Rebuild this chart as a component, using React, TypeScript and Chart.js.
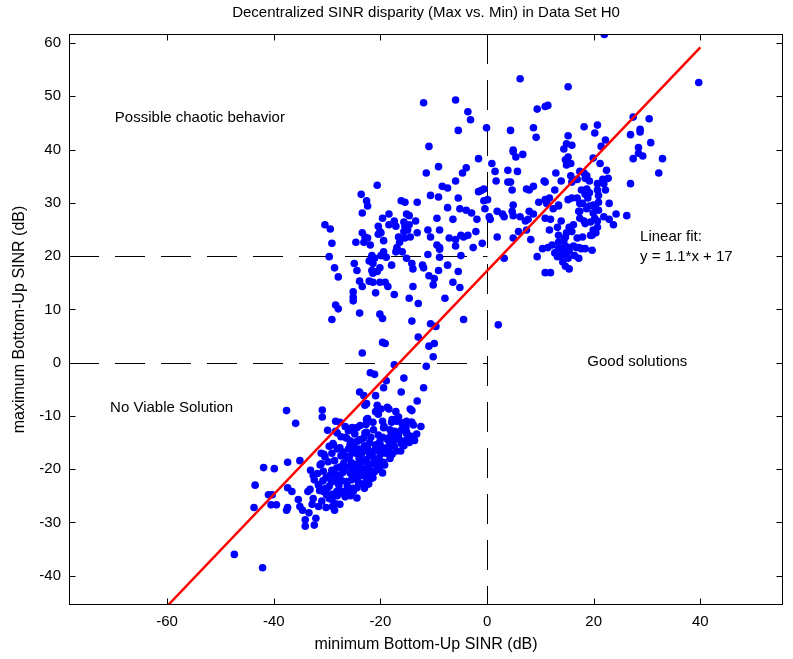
import React, { useEffect, useRef } from 'react';
import { Chart, registerables } from 'chart.js';
Chart.register(...registerables);

// Axis ranges and ticks
const X_MIN = -78.4;
const X_MAX = 55.5;
const Y_MIN = -45.5;
const Y_MAX = 61.7;
const xTickValues = [-60, -40, -20, 0, 20, 40];
const yTickValues = [-40, -30, -20, -10, 0, 10, 20, 30, 40, 50, 60];

// Texts
const titleText = 'Decentralized SINR disparity (Max vs. Min) in Data Set H0';
const xTitle = 'minimum Bottom-Up SINR (dB)';
const yTitle = 'maximum Bottom-Up SINR (dB)';
const noteTexts = ['Possible chaotic behavior', 'Linear fit:', 'y = 1.1*x + 17', 'Good solutions', 'No Viable Solution'];
const noteX = [-69.8, 28.7, 28.7, 18.8, -70.7];
const noteY = [45.9, 23.6, 19.8, 0.1, -8.5];

// Reference (dashed) lines
const refVerticalX = 0;
const refHorizontalY = [20, 0];

// Linear fit endpoints
const fitX = [-59.8, 40];
const fitY = [-45.5, 59.2];

// Scatter points: upper-left cluster
const upperLeft: number[][] = [
  [-11.9,48.8],[-5.9,49.3],[-3.6,47.1],[-3.1,45.6],[-5.4,43.6],[-0.1,44.1],[-10.9,40.6],[-1.6,38.3],[0.9,37.4],[-9.1,36.8],
  [-11.4,35.6],[-3.9,36.6],[-4.6,35.6],[1.5,35.9],[-5.9,34.1],[1.7,34.1],[-20.6,33.3],[-8.4,33.1],[-7.4,32.8],[-23.6,31.6],
  [-10.6,31.4],[-9.1,31.1],[-1.6,32.1],[-1.1,32.3],[-0.6,32.6],[-22.6,30.4],[-16.1,30.4],[-15.4,30.1],[-13.1,30.1],[-5.4,30.9],
  [-0.6,30.4],[0.1,30.6],[-22.4,29.4],[-7.4,29.1],[-5.1,28.9],[-3.9,28.6],[-2.9,28.1],[-0.4,28.9],[-23.4,28.1],[-19.6,27.1],
  [-18.4,27.9],[-15.1,27.9],[-14.6,27.6],[1.9,28.4],[-30.4,25.9],[-29.4,25.1],[-20.4,25.6],[-20.1,24.6],[-18.4,25.9],[-17.4,26.6],
  [-17.1,25.6],[-15.6,26.4],[-15.4,25.6],[-14.6,25.9],[-15.6,24.6],[-13.4,26.6],[-9.4,27.1],[-6.4,26.9],[-1.9,26.9],[0.4,27.4],
  [0.6,26.9],[-29.1,22.4],[-24.6,22.6],[-23.4,24.4],[-22.9,23.6],[-22.4,23.4],[-23.1,22.6],[-21.9,22.1],[-19.9,24.4],[-20.4,24.1],
  [-19.4,22.9],[-16.6,23.6],[-16.4,22.6],[-16.9,21.6],[-14.9,24.9],[-14.4,23.6],[-15.4,23.4],[-13.1,24.4],[-11.1,24.9],[-10.6,23.6],
  [-8.9,24.9],[-7.1,23.4],[-5.9,23.1],[-4.9,23.9],[-4.4,23.6],[-3.6,23.9],[-2.1,24.6],[-0.9,22.4],[1.9,23.6],[-9.4,22.1],
  [-8.9,21.6],[-5.9,21.9],[-2.6,21.6],
  [-29.6,19.9],[-28.6,17.8],[-27.9,16.1],[-24.9,18.6],[-24.4,17.3],[-22.1,19.1],[-21.6,19.3],[-21.1,19.6],[-21.6,20.1],[-21.4,18.6],
  [-21.6,17.3],[-20.6,17.1],[-21.4,16.8],[-20.1,17.8],[-19.9,20.1],[-19.4,20.8],[-18.9,19.8],[-17.9,18.3],[-16.9,21.3],[-17.1,20.8],
  [-15.9,20.8],[-15.1,19.6],[-14.1,18.6],[-13.9,17.6],[-12.1,18.3],[-11.9,17.8],[-11.1,20.3],[-8.9,21.3],[-8.9,19.8],[-7.4,18.3],
  [-4.9,20.1],[-10.9,16.3],[-9.9,15.8],[-10.1,14.6],[-9.1,17.3],[-5.4,17.1],[-6.4,15.1],[-5.1,14.1],[-23.9,15.3],[-23.4,14.3],
  [-22.1,15.3],[-21.4,15.1],[-20.1,15.1],[-19.1,15.1],[-18.6,14.3],[-13.9,14.3],[-25.1,13.3],[-25.1,12.3],[-25.1,11.6],[-20.9,13.1],
  [-17.4,12.8],[-14.6,12.1],[-12.9,11.1],[-7.9,12.1],[-28.4,10.8],[-27.9,10.1],[-23.9,9.3],[-20.1,9.1],[-19.6,8.3],[-29.1,8.1],
  [-14.1,7.8],[-10.6,7.3],[-9.6,6.8],[-4.4,8.1],[2.1,7.1],[-19.6,3.8],[-19.1,3.6],[-12.9,4.8],[-10.9,3.1],[-9.9,3.6],
  [-23.4,1.8],[-10.1,1.1],[-11.4,-0.7],[-17.4,-0.4],[-21.9,-1.9],[-21.1,-2.2],[-15.6,-2.9],
];

// Scatter points: upper-right cluster
const upperRight: number[][] = [
  [22.0,61.6],[6.2,53.3],[15.2,51.8],[39.7,52.6],[9.4,47.6],[10.9,48.1],[11.4,48.3],[4.4,43.6],[8.7,44.1],[9.2,42.3],
  [15.2,42.6],[18.2,44.3],[20.7,44.6],[20.2,43.1],[22.2,41.8],[21.4,40.6],[27.4,46.1],[30.4,45.8],[26.9,42.8],[28.7,43.8],
  [28.7,43.3],[30.7,41.3],[28.4,40.4],[14.9,41.1],[15.9,40.8],[14.4,40.1],[4.9,39.9],[4.9,39.6],[5.4,38.6],[6.7,39.1],
  [15.2,38.6],[14.7,38.1],[14.9,37.1],[15.7,37.4],[28.4,39.3],[29.2,38.8],[27.4,38.3],[32.9,38.3],[32.2,35.6],[26.9,33.6],
  [3.9,36.1],[5.7,35.9],[3.9,33.9],[4.4,33.9],[4.7,32.4],[4.9,29.6],[12.9,35.6],[13.9,34.1],[15.7,35.1],[10.7,34.1],
  [10.9,33.9],[7.4,32.6],[7.9,32.4],[8.7,33.1],[9.7,30.1],[10.9,30.6],[11.2,29.9],[12.7,32.4],[11.7,30.9],[13.4,29.6],
  [17.4,35.9],[18.2,35.6],[18.4,34.6],[18.7,35.1],[19.2,34.1],[15.9,33.9],[16.9,34.4],[19.9,38.4],[21.2,37.4],[22.4,36.1],
  [22.7,34.6],[21.7,34.4],[21.9,33.6],[20.7,33.6],[22.2,32.4],[20.7,32.4],[20.9,31.4],[17.7,32.4],[18.7,32.6],[18.4,31.6],
  [19.2,31.9],[18.9,30.9],[15.2,30.6],[15.9,30.9],[16.9,30.9],[17.4,29.9],[17.9,29.9],[17.4,28.4],[18.7,28.9],[19.2,29.4],
  [19.9,29.6],[20.4,28.9],[20.9,28.6],[19.9,28.1],[20.9,30.1],[22.9,29.9],[12.4,28.9],[13.4,29.4],[7.9,28.4],[8.7,27.9],
  [10.9,27.1],[11.9,26.9],[13.9,26.6],[2.9,27.9],[3.2,27.4],[4.7,28.4],[4.9,27.6],[6.2,27.4],[7.2,26.6],[7.7,26.9],
  [17.2,28.4],[17.4,27.1],[18.2,26.6],[19.4,26.4],[18.4,26.1],[20.2,27.1],[20.7,26.6],[20.7,25.4],[19.9,24.9],[20.4,24.4],
  [19.7,23.9],[21.9,27.4],[22.9,26.9],[23.7,25.9],[24.2,27.9],[26.2,27.6],[16.2,25.9],[15.4,25.4],[15.9,24.6],[14.9,24.4],
  [14.7,23.6],[13.2,25.4],[11.7,24.9],[13.4,23.9],[8.2,23.1],[4.9,23.4],[5.9,24.6],[7.4,24.9],[16.9,23.4],[17.9,23.6],
  [19.4,23.9],[10.4,21.4],[11.4,21.6],[12.2,22.1],[12.7,20.6],[13.4,22.6],[13.4,21.4],[14.2,21.4],[14.4,22.9],[14.7,21.9],
  [15.2,21.6],[15.4,20.9],[16.2,21.9],[16.7,21.6],[17.2,21.6],[17.7,21.4],[18.4,21.4],[19.7,21.1],[9.4,19.9],[13.2,19.9],
  [13.9,20.1],[14.7,20.4],[15.2,19.6],[16.4,20.1],[17.2,19.6],[14.2,18.9],[15.4,17.6],[14.7,18.1],[10.9,16.9],[11.9,16.9],
  [3.2,19.6],
];

// Scatter points: lower cluster
const lowerCluster: number[][] = [
  [-18.9,-3.4],[-19.4,-4.7],[-11.9,-4.7],[-16.1,-5.5],[-23.9,-5.5],[-23.1,-6.2],[-20.9,-6.2],[-13.1,-7.2],[-22.6,-7.7],[-22.9,-8.0],
  [-20.6,-8.0],[-37.6,-9.0],[-30.9,-8.9],[-30.9,-10.2],[-20.9,-9.2],[-19.9,-8.7],[-20.4,-9.7],[-17.1,-9.2],[-16.6,-10.2],[-14.4,-8.7],
  [-14.1,-9.0],[-12.4,-12.0],[-14.1,-11.2],[-35.9,-11.4],[-28.4,-11.0],[-27.6,-11.2],[-22.6,-10.7],[-21.4,-11.2],[-19.6,-11.0],[-17.9,-11.2],
  [-16.9,-11.0],[-15.9,-11.5],[-15.1,-11.0],[-15.1,-13.0],[-16.1,-12.7],[-17.6,-13.0],[-19.3,-12.0],[-29.9,-12.7],[-26.6,-12.0],[-25.4,-12.5],
  [-35.1,-18.4],[-37.4,-18.7],[-41.9,-19.7],[-39.9,-19.9],[-33.1,-20.2],[-32.6,-21.2],[-31.1,-17.0],[-30.4,-17.7],
  [-18.7,-8.4],[-18.4,-8.7],[-17.8,-10.7],[-16.8,-10.4],[-15.7,-11.3],[-15.2,-12.1],[-14.2,-11.2],[-13.8,-11.7],[-19.4,-12.2],[-18.2,-12.6],
  [-17.3,-12.9],[-16.6,-13.6],[-15.1,-13.3],[-16.1,-15.2],[-17.6,-14.6],[-18.6,-14.2],[-20.1,-14.8],[-20.7,-15.4],[-18.8,-16.0],[-21.3,-16.7],
  [-21.3,-12.6],[-28.4,-12.9],[-25.3,-12.2],[-24.4,-12.2],[-22.7,-11.6],[-22.6,-13.1],[-27.4,-13.9],[-26.3,-14.2],[-28.8,-15.4],[-27.6,-16.0],
  [-25.7,-15.4],[-24.4,-14.8],[-23.2,-14.2],[-25.1,-16.7],[-23.2,-16.7],[-29.1,-17.0],
  [-33.2,-23.8],[-31.3,-19.2],[-30.7,-20.4],[-31.6,-22.9],[-30.7,-24.2],[-30.1,-24.8],[-29.1,-25.7],[-28.2,-24.2],[-28.8,-22.3],[-29.4,-21.1],
  [-28.2,-19.8],[-26.9,-18.9],[-27.6,-21.1],[-26.3,-22.3],[-26.6,-24.2],[-25.1,-23.6],[-24.4,-21.7],[-25.1,-19.8],[-23.8,-19.2],[-23.2,-20.4],
  [-24.4,-25.4],[-22.6,-22.3],[-24.0,-18.0],[-22.0,-17.5],[-21.5,-19.0],[-23.0,-18.5],[-20.0,-17.2],[-19.0,-17.0],[-20.5,-19.0],[-21.5,-20.5],
  [-21.8,-21.8],[-21.4,-21.6],[-16.4,-14.5],[-17.4,-15.7],[-18.4,-16.5],[-19.4,-18.7],[-21.1,-18.0],[-21.9,-17.0],[-20.9,-15.5],[-19.9,-15.7],
  [-18.6,-14.5],[-17.6,-14.3],[-28.1,-13.2],[-28.9,-15.2],[-29.6,-15.7],[-30.6,-17.2],[-31.1,-19.0],[-28.1,-16.2],[-27.4,-17.5],[-26.1,-18.0],
  [-24.6,-17.0],[-23.6,-18.7],[-22.9,-20.0],[-21.6,-20.5],[-20.6,-19.7],[-19.6,-20.7],[-26.6,-19.5],[-29.1,-20.2],[-25.6,-14.7],[-23.9,-14.5],
  [-22.9,-13.2],[-22.4,-10.5],[-26.6,-14.0],
  [-27.0,-16.8],[-26.0,-16.2],[-25.0,-15.8],[-24.0,-16.2],[-23.0,-15.6],[-22.0,-15.0],[-26.8,-20.2],[-25.6,-20.8],[-24.6,-20.2],[-23.6,-21.2],
  [-22.8,-21.4],[-27.8,-23.0],[-26.2,-23.2],[-25.4,-22.0],[-23.4,-22.8],[-22.2,-19.4],[-24.2,-19.0],[-25.8,-17.6],[-28.6,-18.4],[-29.8,-18.6],
  [-30.2,-21.6],[-27.2,-22.2],[-20.2,-18.2],[-19.2,-16.2],[-18.2,-15.2],[-20.4,-13.6],[-21.8,-14.0],[-24.8,-13.4],[-26.0,-12.8],[-23.8,-11.8],
  [-17.0,-16.6],[-16.8,-14.0],[-15.2,-14.6],[-14.4,-13.8],[-13.2,-13.4],
  [-31.8,-20.8],[-30.8,-22.2],[-29.6,-23.2],[-28.6,-21.0],[-27.6,-19.6],[-26.6,-17.6],[-25.4,-18.8],[-24.8,-21.0],[-23.8,-20.0],[-22.6,-18.2],
  [-21.0,-16.4],[-20.2,-16.2],[-19.6,-14.0],[-18.0,-13.6],[-22.4,-16.0],[-23.6,-17.2],[-25.6,-19.6],[-27.0,-20.6],[-28.0,-21.8],[-29.2,-22.4],
  [-30.0,-23.6],[-27.6,-24.0],[-26.6,-25.2],[-25.6,-25.0],[-23.0,-23.6],[-22.2,-22.8],[-20.2,-20.0],[-19.2,-19.2],[-18.2,-18.0],[-17.8,-17.2],
  [-16.2,-16.6],[-15.6,-15.6],[-14.6,-15.0],[-13.6,-14.6],[-32.8,-26.6],[-31.0,-26.0],[-30.2,-27.2],[-29.0,-27.0],[-27.6,-26.6],
  [-43.5,-23.0],[-43.7,-27.2],[-41.0,-24.8],[-40.3,-24.8],[-40.5,-26.7],[-39.5,-26.7],[-37.4,-23.5],[-36.6,-24.2],[-37.6,-27.7],[-37.4,-27.2],
  [-35.4,-25.7],[-35.1,-27.0],[-34.6,-27.7],[-33.6,-24.2],[-32.6,-25.5],[-33.4,-28.2],[-34.1,-29.5],[-34.1,-30.7],[-32.1,-29.2],[-32.4,-30.5],
  [-31.6,-27.0],[-28.6,-27.7],[-28.4,-26.5],[-47.4,-36.0],[-42.1,-38.5],[-32.4,-22.0],[-31.6,-23.0],[-31.4,-24.0],[-30.4,-23.7],[-29.6,-25.5],
  [-29.1,-24.7],[-28.1,-25.0],[-27.1,-24.5],[-25.9,-23.7],[-25.1,-24.2],[-24.4,-23.5],[-24.1,-22.5],[-21.9,-21.5],[-21.1,-20.5],[-22.6,-20.7],
];

const FONT = "'Liberation Sans', Arial, Helvetica, sans-serif";

const framePlugin = {
  id: 'matlabFrame',
  beforeDatasetsDraw(chart: any) {
    const { ctx, chartArea: a, scales } = chart;
    const xs = scales.x, ys = scales.y;
    ctx.save();
    ctx.beginPath();
    ctx.rect(a.left, a.top, a.right - a.left, a.bottom - a.top);
    ctx.clip();
    ctx.strokeStyle = '#000';
    ctx.lineWidth = 1;
    ctx.setLineDash([30, 16]);
    const vx = Math.round(xs.getPixelForValue(refVerticalX)) + 0.5;
    ctx.beginPath();
    ctx.moveTo(vx, a.top);
    ctx.lineTo(vx, a.bottom);
    ctx.stroke();
    for (const v of refHorizontalY) {
      const py = Math.round(ys.getPixelForValue(v)) + 0.5;
      ctx.beginPath();
      ctx.moveTo(a.left, py);
      ctx.lineTo(vx, py);
      ctx.stroke();
    }
    ctx.restore();
  },
  afterDraw(chart: any) {
    const { ctx, chartArea: a, scales } = chart;
    const xs = scales.x, ys = scales.y;
    ctx.save();
    ctx.strokeStyle = '#000';
    ctx.lineWidth = 1;
    ctx.setLineDash([]);
    const L = Math.round(a.left) + 0.5, R = Math.round(a.right) - 0.5;
    const T = Math.round(a.top) + 0.5, B = Math.round(a.bottom) - 0.5;
    ctx.strokeRect(L, T, R - L, B - T);
    const tl = 6;
    ctx.beginPath();
    for (const v of xTickValues) {
      const px = Math.round(xs.getPixelForValue(v)) + 0.5;
      ctx.moveTo(px, B); ctx.lineTo(px, B - tl);
      ctx.moveTo(px, T); ctx.lineTo(px, T + tl);
    }
    for (const v of yTickValues) {
      const py = Math.round(ys.getPixelForValue(v)) + 0.5;
      ctx.moveTo(L, py); ctx.lineTo(L + tl, py);
      ctx.moveTo(R, py); ctx.lineTo(R - tl, py);
    }
    ctx.stroke();

    ctx.fillStyle = '#000';
    ctx.font = `15px ${FONT}`;
    ctx.textAlign = 'left';
    ctx.textBaseline = 'middle';
    noteTexts.forEach((t, i) => {
      ctx.fillText(t, xs.getPixelForValue(noteX[i]), ys.getPixelForValue(noteY[i]));
    });
    ctx.textAlign = 'center';
    ctx.font = `15px ${FONT}`;
    ctx.fillText(titleText, (a.left + a.right) / 2, 13);
    ctx.font = `16px ${FONT}`;
    ctx.fillText(xTitle, (a.left + a.right) / 2, 645);
    ctx.translate(20, (a.top + a.bottom) / 2);
    ctx.rotate(-Math.PI / 2);
    ctx.fillText(yTitle, 0, 0);
    ctx.restore();
  },
};

export default function App() {
  const ref = useRef<HTMLCanvasElement | null>(null);
  useEffect(() => {
    if (!ref.current) return;
    const pts = [...upperLeft, ...upperRight, ...lowerCluster].map(([x, y]) => ({ x, y }));
    const fit = fitX.map((x, i) => ({ x, y: fitY[i] }));
    const tickFont = { family: FONT, size: 15 };
    const chart = new Chart(ref.current, {
      type: 'scatter',
      data: {
        datasets: [
          {
            type: 'line',
            data: fit,
            borderColor: '#ff0000',
            borderWidth: 2.5,
            pointRadius: 0,
            fill: false,
            tension: 0,
            order: 0,
          } as any,
          {
            type: 'scatter',
            data: pts,
            backgroundColor: '#0000ff',
            borderColor: '#0000ff',
            borderWidth: 0,
            pointRadius: 3.8,
            order: 1,
          } as any,
        ],
      },
      options: {
        responsive: false,
        animation: false,
        devicePixelRatio: 1,
        layout: { padding: { top: 34, right: 10, left: 0, bottom: 0 } },
        plugins: { legend: { display: false }, tooltip: { enabled: false }, title: { display: false } },
        scales: {
          x: {
            type: 'linear',
            min: X_MIN,
            max: X_MAX,
            afterBuildTicks: (s: any) => { s.ticks = xTickValues.map((v) => ({ value: v })); },
            grid: { display: false, drawTicks: false },
            border: { display: false },
            ticks: { font: tickFont, color: '#000', padding: 8, maxRotation: 0, autoSkip: false },
            afterFit: (s: any) => { s.height = 54; },
          },
          y: {
            type: 'linear',
            min: Y_MIN,
            max: Y_MAX,
            afterBuildTicks: (s: any) => { s.ticks = yTickValues.map((v) => ({ value: v })); },
            grid: { display: false, drawTicks: false },
            border: { display: false },
            ticks: { font: tickFont, color: '#000', padding: 8, autoSkip: false },
            afterFit: (s: any) => { s.width = 69; },
          },
        },
      } as any,
      plugins: [framePlugin],
    });
    return () => chart.destroy();
  }, []);
  return (
    <div style={{ position: 'absolute', left: 0, top: 0, width: 793, height: 659, background: '#fff' }}>
      <canvas ref={ref} width={793} height={659} style={{ display: 'block' }} />
    </div>
  );
}
